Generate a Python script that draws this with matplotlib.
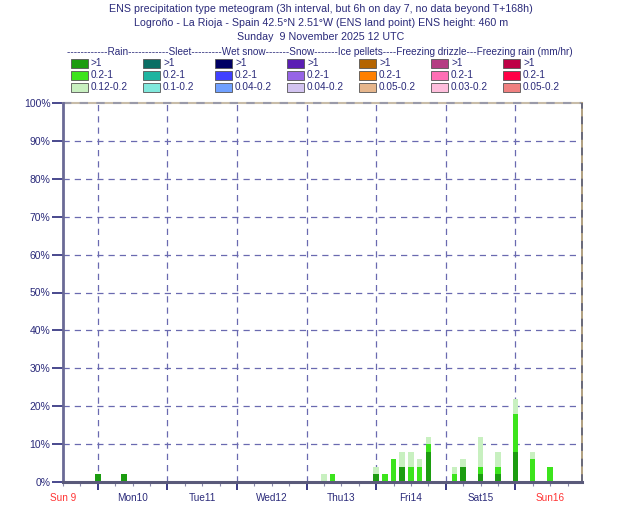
import matplotlib
matplotlib.use("Agg")
import matplotlib.pyplot as plt
from matplotlib.patches import Rectangle
from matplotlib.ticker import FixedLocator, FixedFormatter

plt.rcParams['font.family'] = ['Liberation Sans', 'DejaVu Sans']

# ---------------- data ----------------
hours = [12, 21, 90, 93, 108, 111, 114, 117, 120, 123, 126, 135, 138, 144, 150, 156, 162, 168]
rain_gt1 = [2, 2, 0, 0, 2, 0, 0, 4, 0, 0, 8, 0, 4, 2, 2, 8, 0, 0]
rain_02_1 = [0, 0, 0, 2, 0, 2, 6, 0, 4, 4, 2, 2, 0, 2, 2, 10, 6, 4]
rain_012_02 = [0, 0, 2, 0, 2, 0, 0, 4, 4, 2, 2, 2, 2, 8, 4, 4, 2, 0]

day_labels = ["Sun 9", "Mon10", "Tue11", "Wed12", "Thu13", "Fri14", "Sat15", "Sun16"]
day_label_hours = [0, 24, 48, 72, 96, 120, 144, 168]
day_label_colors = ["#ff3333", "#2a2a7a", "#2a2a7a", "#2a2a7a", "#2a2a7a", "#2a2a7a", "#2a2a7a", "#ff3333"]
day_bound_hours = [12, 36, 60, 84, 108, 132, 156]
y_ticks = [0, 10, 20, 30, 40, 50, 60, 70, 80, 90, 100]
y_ticklabels = [f"{v}%" for v in y_ticks]

legend_groups = ["Rain", "Sleet", "Wet snow", "Snow", "Ice pellets", "Freezing drizzle", "Freezing rain"]
legend_colors = [
    ["#1c9c10", "#3ce41c", "#c8f0c0"],
    ["#0a6e64", "#1eb4a0", "#80e8dc"],
    ["#000064", "#4040ff", "#70a0ff"],
    ["#5a1eb4", "#9664e6", "#d2c3f0"],
    ["#b46400", "#ff8000", "#e6b68c"],
    ["#b43c82", "#ff6eb4", "#ffbedc"],
    ["#be0046", "#ff0046", "#f08080"],
]
legend_labels = [
    [">1", "0.2-1", "0.12-0.2"],
    [">1", "0.2-1", "0.1-0.2"],
    [">1", "0.2-1", "0.04-0.2"],
    [">1", "0.2-1", "0.04-0.2"],
    [">1", "0.2-1", "0.05-0.2"],
    [">1", "0.2-1", "0.03-0.2"],
    [">1", "0.2-1", "0.05-0.2"],
]
header = ("------------Rain------------Sleet---------Wet snow-------Snow-------"
          "Ice pellets----Freezing drizzle---Freezing rain (mm/hr)")
titles = ["ENS precipitation type meteogram (3h interval, but 6h on day 7, no data beyond T+168h)",
          "Logroño - La Rioja - Spain 42.5°N 2.51°W (ENS land point) ENS height: 460 m",
          "Sunday  9 November 2025 12 UTC"]

# ---------------- figure ----------------
W, H = 630, 525
fig = plt.figure(figsize=(W / 100, H / 100), dpi=100)
fig.patch.set_facecolor("white")

def fx(px):
    return px / W

def fy(py):
    return 1 - py / H

ax = fig.add_axes([fx(63), fy(482), fx(582) - fx(63), fy(103) - fy(482)])
ax.set_xlim(0, 179)
ax.set_ylim(0, 100)

navy = "#2a2a7a"
grid_c = "#6a6ab0"

# grid
for h in day_bound_hours:
    ax.axvline(h, color=grid_c, lw=0.9, ls=(0, (5, 4)), zorder=1)
for v in y_ticks[1:-1]:
    ax.axhline(v, color=grid_c, lw=0.9, ls=(0, (5, 4)), zorder=1)

# bars (stacked)
bw = 1.9
b1 = rain_gt1
b2 = [a + b for a, b in zip(rain_gt1, rain_02_1)]
ax.bar(hours, rain_gt1, width=bw, color=legend_colors[0][0], zorder=3, lw=0)
ax.bar(hours, rain_02_1, width=bw, bottom=b1, color=legend_colors[0][1], zorder=3, lw=0)
ax.bar(hours, rain_012_02, width=bw, bottom=b2, color=legend_colors[0][2], zorder=3, lw=0)

# spines
for s in ["top", "right"]:
    ax.spines[s].set_visible(False)
ax.spines["left"].set_color("#6a6a96")
ax.spines["left"].set_linewidth(2)
ax.spines["bottom"].set_color("#5a5a7a")
ax.spines["bottom"].set_linewidth(2.2)
ax.spines["left"].set_zorder(4)
ax.spines["bottom"].set_zorder(4)

# top and right borders (two-tone dashed)
ax.plot([0, 179], [100, 100], color="#c8bca8", lw=1.5, zorder=2, clip_on=False)
ax.plot([0, 179], [100, 100], color="#9a9aa8", lw=1.5, ls=(0, (4, 4)), zorder=2, clip_on=False)
ax.plot([179, 179], [0, 100], color="#b0a080", lw=1.4, zorder=2, clip_on=False)
ax.plot([179, 179], [0, 100], color="#6a6a7a", lw=1.4, ls=(0, (4, 4)), zorder=2, clip_on=False)

# y ticks
ax.set_yticks(y_ticks)
ax.set_yticklabels(y_ticklabels)
ax.tick_params(axis="y", direction="out", length=8, width=1.2, color=navy,
               labelcolor=navy, labelsize=7.5, pad=1)

# x ticks
ax.xaxis.set_major_locator(FixedLocator(day_bound_hours))
ax.xaxis.set_major_formatter(FixedFormatter([""] * len(day_bound_hours)))
minor = list(range(0, 180, 6))
ax.xaxis.set_minor_locator(FixedLocator(minor))
ax.xaxis.set_minor_formatter(FixedFormatter([""] * len(minor)))
ax.tick_params(axis="x", which="major", direction="out", length=6, width=1.3, color=navy)
ax.tick_params(axis="x", which="minor", direction="out", length=3, width=0.8, color="#8888aa")
for h, lab, c in zip(day_label_hours, day_labels, day_label_colors):
    ax.text(h, -4.1, lab, ha="center", va="center", color=c, fontsize=7.2,
            transform=ax.transData, clip_on=False)

# titles
for i, t in enumerate(titles):
    fig.text(fx(321), fy(8.5 + i * 14.2), t, ha="center", va="center", color=navy, fontsize=7.65)

# legend
fig.text(fx(67), fy(52), header, ha="left", va="center", color=navy, fontsize=7.22)
col_x = [71 + 72 * i for i in range(7)]
row_y = [63, 75, 87]
for gi in range(7):
    for ri in range(3):
        x0 = col_x[gi]
        y0 = row_y[ri]
        r = Rectangle((fx(x0), fy(y0 + 4.5)), fx(17), 9 / H, transform=fig.transFigure,
                      facecolor=legend_colors[gi][ri], edgecolor="#555555", lw=0.6)
        fig.patches.append(r)
        fig.text(fx(x0 + 20), fy(y0), legend_labels[gi][ri], ha="left", va="center",
                 color=navy, fontsize=7.2)

fig.savefig("out.png", dpi=100, facecolor="white")
